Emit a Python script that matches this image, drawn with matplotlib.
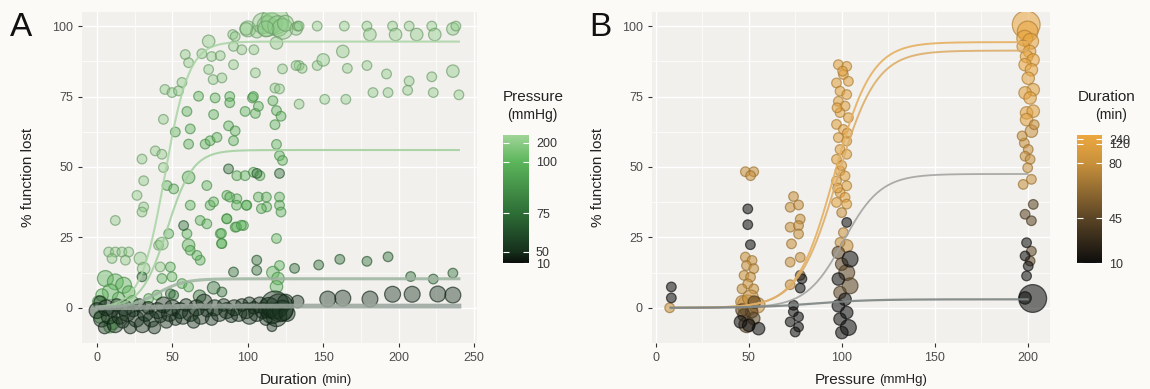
import numpy as np
import matplotlib.pyplot as plt
from matplotlib.colors import LinearSegmentedColormap, to_rgba

plt.rcParams['font.family'] = ['Liberation Sans', 'DejaVu Sans']

# ---------------- panel A : duration vs % function lost, by pressure (mmHg)
# (duration_min, pct_lost, n)
a_p200 = [
    (100, 99, 3), (106, 98, 2), (110, 101, 4), (113, 100, 4), (116, 101, 4), (118, 102, 5),
    (120, 100, 4), (123, 99, 4), (125, 101, 3), (119, 94, 2), (112, 99, 3), (99, 99, 2),
    (90, 97, 1), (91.6, 96.3, 1), (132, 99, 2), (133, 100, 1), (134, 100, 1), (146, 100, 1),
    (164, 100, 1), (179, 100, 1), (181, 97, 2), (196, 100, 1), (198, 97, 2), (207, 100, 1),
    (212, 97, 2), (222, 100, 1), (224, 97, 2), (236, 99, 2), (238, 100, 1),
    (74, 94.6, 2), (90.5, 92.8, 1), (96, 91.6, 1), (104, 91.6, 1), (58.5, 89.9, 1),
    (69.5, 90.2, 1), (76, 89.2, 1), (81.7, 89.5, 1), (60.7, 87, 1), (90.5, 86.3, 1),
    (105, 83.4, 1), (74, 84.6, 1), (77, 81, 1), (82.8, 81.6, 1), (56.3, 80, 1), (45, 77.5, 1),
    (49.7, 76.4, 1), (54, 77, 1), (163, 91, 2), (134, 86, 1), (136, 85, 1), (146, 86, 1),
    (150, 88, 2), (166, 85, 1), (179, 86, 1), (192, 83, 1), (207, 80.5, 1), (222, 82, 1),
    (236, 84, 2), (123, 84.8, 1), (132, 86, 1), (118, 78, 1), (121, 77.7, 1),
    (134, 72.3, 1), (151, 74, 1), (165, 74, 1), (183, 76.4, 1), (193, 76.4, 1), (206, 77.2, 1),
    (223, 76.4, 1), (240, 75.6, 1),
    (44, 66.9, 1), (29.8, 52.8, 1), (38.6, 55.7, 1), (43, 54.5, 1), (44, 49.8, 1),
    (30.9, 45.1, 1), (26.5, 39.9, 1), (30.9, 35.8, 1), (29.8, 34, 1), (12.1, 31, 1),
    (7.7, 19.8, 1), (12.1, 19.8, 1), (16.5, 19.8, 1), (21, 19.8, 1), (9.9, 17.5, 1),
    (18.8, 16.9, 1), (28.7, 17.5, 2), (30.9, 13.9, 2), (40.8, 22.2, 1), (43, 22.8, 2),
    (41.9, 14.5, 1),
]
a_p100 = [
    (103, 74.5, 1), (103.7, 75, 1), (98.2, 69.7, 1), (105, 69, 1), (107, 71.5, 1),
    (59.6, 69.7, 1), (77.3, 68.6, 1), (87.2, 64.6, 1), (91.6, 62.8, 1), (51.9, 62.4, 1),
    (61.8, 63.5, 1), (71.7, 58.1, 1), (75, 59.3, 1), (79.5, 60.5, 1), (90.5, 59.3, 1),
    (60.7, 58.1, 1), (116.6, 73.5, 1), (119, 70, 1), (122, 68, 1), (118, 65, 1), (119, 58, 1),
    (121, 54, 1), (123, 52.3, 1), (88, 75, 1), (88, 72.8, 1), (67.3, 75.1, 1), (78.3, 74.5, 1),
    (46.4, 43.4, 1), (50.8, 42.2, 1), (60.7, 46.3, 2), (72.8, 43.4, 1), (92.7, 46.9, 1),
    (98.2, 46.9, 1), (103.7, 48.1, 1), (108, 46.9, 1), (61.8, 36.4, 1), (75, 36.4, 1),
    (77.3, 37.6, 1), (86.1, 39.9, 1), (92.7, 38.7, 1), (99.3, 36.4, 1), (107, 39.3, 1),
    (112.5, 35.8, 1), (109, 35.2, 1), (68.4, 31, 1), (72.8, 29.8, 1), (86.1, 31.6, 1),
    (91.6, 28.6, 1), (97.1, 29.2, 1), (59.6, 26.3, 1), (81.7, 26.3, 1), (82.8, 22.8, 1),
    (47.5, 26.3, 1), (60.7, 22.2, 2), (61.8, 20.4, 1), (68.4, 16.9, 1), (66.2, 18.6, 1),
    (48.6, 14.5, 1), (49.7, 11, 1), (43, 10.4, 1), (56.3, 8.6, 1), (60.7, 7.4, 1),
    (112.3, 39.3, 1), (121, 39.3, 1), (121, 36.4, 1), (122, 34, 1), (119, 24.6, 1),
    (92.5, 36.4, 1), (99, 36.4, 1), (88, 39.3, 1), (86, 31.6, 1), (92.5, 28.7, 1),
    (95.7, 29.3, 1), (82.5, 26.4, 1), (82.5, 22.8, 1), (116.6, 12.5, 2), (120, 10.4, 2),
    (119, 7.5, 2), (121, 15, 1),
    (5.5, 10.4, 3), (12.1, 9.2, 3), (17.6, 8, 3), (8.8, 5.6, 3), (3.3, 4.5, 2), (1.1, 2.1, 2),
    (14.3, 3.3, 2), (21, 5.6, 2), (23.2, 2.1, 2), (34.2, 3.3, 1), (39.7, 4.5, 1),
    (8.6, -6.7, 2), (2, -3.3, 2), (10.6, -5.5, 2),
]
a_p75 = [
    (87.2, 49.3, 1), (121, 47.7, 1), (106, 47.7, 1), (57.4, 29.2, 1), (105.9, 16.9, 1),
    (105.9, 13.3, 1), (90.5, 12.7, 1), (29.8, 11, 1), (48.6, 5, 1), (50.8, 4.5, 1),
    (77.3, 7.1, 2), (82.8, 5.6, 1), (68, 4.1, 2), (131, 14, 1), (147, 15.2, 1), (161, 17.2, 1),
    (179, 16.5, 1), (193, 18.1, 1), (208, 11.1, 1), (223, 10.2, 1), (236, 12.3, 1),
]
a_p50 = [
    (133, 2.2, 2), (153, 3.1, 3), (163, 3.4, 3), (181, 3.1, 3), (196, 4.8, 3), (209, 4.8, 3),
    (226, 4.9, 3), (236, 4.5, 3),
    (0, -1, 3), (2, 2, 2), (3, -4, 3), (5, -7, 2), (6, 0, 3), (8, -3, 3), (10, -1, 2),
    (12, -6, 3), (13, 1, 2), (15, -3, 3), (17, -5, 2), (18, 0, 3), (20, -2, 3), (22, -7, 2),
    (24, -1, 2), (26, -4, 3), (28, 1, 2), (30, -6, 3), (32, -2, 3), (34, 0, 2), (36, -4, 3),
    (38, -7, 2), (40, -1, 3), (42, -3, 2), (44, 1, 3), (46, -5, 2), (48, -2, 3), (50, 0, 3),
    (52, -4, 2), (55, -1, 3), (57, -3, 3), (59, 1, 2), (62, -2, 3), (64, -5, 2), (66, 0, 3),
    (69, -3, 3), (71, 2, 3), (73, -1, 2), (76, -4, 2), (78, 0, 3), (81, -2, 3), (84, 1, 2),
    (86, -1, 3), (89, -3, 2), (91, 0, 3), (94, -2, 3), (96, 1, 2), (99, -1, 3), (101, -3, 3),
    (104, 0, 2), (106, -2, 3), (108, 1, 3), (110, -1, 3), (112, -4, 2), (114, 0, 4),
    (116, -2, 4), (118, 1, 5), (119, -3, 4), (121, 0, 5), (123, -1, 4), (125, 2, 3),
    (126, -2, 3), (116, -6.7, 1), (101, 1.6, 2),
]
a_groups = [(200, a_p200), (100, a_p100), (75, a_p75), (50, a_p50)]

# fitted curves in A (one per pressure)
a_fit_pressure = [200, 100, 75, 50]
a_fit_top = [94.5, 56, 10.3, 0.6]
a_fit_mid = [45, 46.5, 40, 40]
a_fit_scale = [8, 8.5, 9, 10]

# ---------------- panel B : pressure vs % function lost, by duration (min)
# (pressure_mmHg, pct_lost, n)
b_d240 = [
    (199.2, 100.5, 5), (200, 98.1, 4), (198.4, 95.7, 3), (201.6, 94.6, 3), (197.6, 92.8, 2),
    (201, 91, 2), (199.4, 89.2, 2), (202.9, 88, 2), (198.6, 86.3, 2), (202, 84.5, 2),
]
b_d120 = [
    (98.2, 86.3, 1), (102.7, 85.7, 1), (100.9, 82.8, 1), (97.2, 79.8, 1), (103.6, 80.4, 1),
    (99.1, 76.9, 1), (102.7, 75.7, 1), (98.2, 73.3, 1), (101.8, 71.6, 1), (99.1, 69.3, 1),
    (103.6, 67.5, 1), (97.2, 65.1, 1), (100.9, 63.3, 1), (98.2, 60.4, 1), (102.7, 59.2, 1),
    (99.1, 56.2, 1), (102.7, 54.5, 1), (97.2, 52.7, 1), (99.1, 48.6, 1), (101.8, 46.8, 1),
    (97.2, 45, 1), (102.7, 43.3, 1), (99.1, 40.9, 1), (101.8, 39.2, 1), (97.2, 37.4, 1),
    (102.7, 36.8, 1), (100.5, 84, 1), (97.5, 71, 1), (103, 62, 1), (100, 50.5, 1),
    (97.8, 42.5, 1),
    (200.3, 81.5, 2), (203, 77.4, 2), (198.6, 76.3, 2), (201.3, 74.5, 2),
    (199.4, 69.2, 2), (203, 69.8, 2), (199.4, 66.8, 2),
]
b_d80 = [
    (202, 62.7, 2), (198.2, 58.5, 1), (200.3, 56.2, 1), (198.6, 53.8, 1), (201.3, 52.7, 1),
    (200, 49.7, 1), (202, 45.6, 1), (197.6, 43.8, 1), (203.5, 65, 1), (197, 61, 1),
    (100, 33.8, 1), (100.9, 26.7, 1),
    (48.2, 48.3, 1), (52.7, 48.3, 1), (51, 46.9, 1), (74.1, 39.5, 1), (72.3, 35.7, 1),
    (76.8, 36.5, 1), (77.7, 31.5, 1), (72.3, 28.6, 1), (76.8, 29.2, 1), (76.8, 26.2, 1),
    (73, 22.7, 1), (77.7, 17.9, 1), (72.3, 16.2, 1), (48.2, 18, 1), (51.8, 16.8, 1),
    (48.8, 15, 1), (52.7, 13.9, 1), (47.5, 11.5, 1), (51, 10.9, 1), (49.5, 8.5, 1),
    (46.4, 6.7, 1), (52.7, 6.7, 1), (49.5, 0.9, 4), (46.4, 2.1, 2), (54.5, 0.9, 3),
    (51, 3.5, 3), (72.3, 8.2, 1), (102.7, 22, 2), (99.1, 23.2, 1), (7.5, 0, 1),
]
b_d45 = [
    (203, 36.7, 1), (198.6, 33.2, 1), (202, 30.9, 1), (202, 20.1, 1), (201.3, 16.6, 1),
    (98.2, 19.6, 2), (102.7, 12.5, 3), (104.5, 7.8, 3), (99.1, 5.4, 2), (47.5, -2.6, 2),
    (52.7, -3.8, 2), (51.6, -1.4, 2), (46.4, -0.8, 2), (49, -6, 3), (53, 2, 2),
    (77.7, 11.5, 1), (100, 15.5, 2),
]
b_d10 = [
    (8.4, 7.4, 1), (8.4, 3.5, 1), (49.5, 35.1, 1), (49.5, 29.5, 1), (50.9, 22.4, 1),
    (78.6, 10.3, 1), (77.7, 7, 1), (74.1, 0.9, 1), (74, -1.4, 1), (76.8, -3.2, 1),
    (72.3, -5, 1), (76.8, -6.8, 1), (75, -8.6, 1), (50, -6.2, 2), (55.3, -7.4, 2),
    (45.6, -5, 2), (102.7, 30.3, 1), (104.5, 17.3, 3), (98.2, 10.2, 2), (101.8, 3, 2),
    (98.2, 0.7, 2), (102.7, -1.7, 2), (99.1, -4, 2), (103.6, -7, 3), (100.1, -8.8, 2),
    (199.4, 23.1, 1), (198.6, 18.4, 1), (200.3, 14.8, 1), (199.4, 11.3, 1),
    (202.7, 3.3, 5), (198.6, 3.5, 2),
]
b_groups = [(240, b_d240), (120, b_d120), (80, b_d80), (45, b_d45), (10, b_d10)]

b_fit_duration = [240, 120, 45, 10]
b_fit_top = [94.3, 91.3, 47.5, 3.0]
b_fit_mid = [96, 97.5, 101, 85]
b_fit_scale = [10, 10.5, 10, 15]

a_cbar_ticks = [200, 100, 75, 50, 10]
b_cbar_ticks = [240, 120, 80, 45, 10]

# colour scales (position of each tick along the bar)
A_POS = [0.94, 0.79, 0.39, 0.086, 0.0]
B_POS = [0.965, 0.93, 0.78, 0.35, 0.0]
cmap_a = LinearSegmentedColormap.from_list('press', [(0, '#0a0f0b'), (0.086, '#16301c'),
                                                     (0.39, '#2e6e37'), (0.79, '#5cb65b'),
                                                     (1, '#a0d598')])
cmap_b = LinearSegmentedColormap.from_list('dur', [(0, '#0e0e0e'), (0.35, '#5b4526'),
                                                   (0.78, '#c8913c'), (1, '#eda83f')])
SIZE = {1: 48, 2: 80, 3: 130, 4: 220, 5: 400}
BG = '#fbfaf7'
PANEL = '#f1f0ed'


def value_color(v, ticks, pos, cmap):
    return cmap(np.interp(v, ticks[::-1], pos[::-1]))


def draw_points(ax, groups, ticks, pos, cmap, alpha):
    for val, pts in groups:
        arr = np.array(pts, dtype=float)
        rgb = value_color(val, ticks, pos, cmap)
        face = to_rgba(rgb, alpha)
        edge = to_rgba(tuple(c * 0.75 for c in rgb[:3]), 0.65)
        ax.scatter(arr[:, 0], arr[:, 1], s=[SIZE[int(n)] for n in arr[:, 2]],
                   facecolor=face, edgecolor=edge, linewidths=0.9, zorder=3)


def style_axes(ax, xticks, xlim):
    ax.set_facecolor(PANEL)
    for sp in ax.spines.values():
        sp.set_visible(False)
    ax.set_xlim(*xlim)
    ax.set_ylim(-12.5, 105)
    ax.set_xticks(xticks)
    ax.set_xticks([(a + b) / 2 for a, b in zip(xticks[:-1], xticks[1:])], minor=True)
    ax.set_yticks([0, 25, 50, 75, 100])
    ax.set_yticks([12.5, 37.5, 62.5, 87.5], minor=True)
    ax.grid(which='major', color='white', linewidth=1.0)
    ax.grid(which='minor', color='white', linewidth=0.5)
    ax.set_axisbelow(True)
    ax.tick_params(which='major', length=3, width=0.8, color='#333333',
                   labelsize=9, labelcolor='#4d4d4d')
    ax.tick_params(which='minor', length=0)
    ax.set_ylabel('% function lost', fontsize=11, color='#222222')
    ax.yaxis.set_label_coords(-0.118, 0.5)


def colorbar(fig, rect, cmap, ticks, pos):
    cax = fig.add_axes(rect)
    cax.imshow(np.linspace(0, 1, 256)[:, None], aspect='auto', cmap=cmap,
               origin='lower', extent=[0, 1, 0, 1])
    cax.set_xticks([])
    cax.set_ylim(0, 1)
    cax.set_yticks(pos)
    cax.set_yticklabels([str(t) for t in ticks])
    cax.yaxis.tick_right()
    cax.tick_params(axis='y', left=True, right=True, direction='in', color='white',
                    length=4, width=0.8, labelsize=9, labelcolor='#333333', pad=5)
    for sp in cax.spines.values():
        sp.set_visible(False)
    return cax


fig = plt.figure(figsize=(11.5, 3.89), dpi=100, facecolor=BG)

# ---------------- A
ax1 = fig.add_axes([82 / 1150, 46 / 389, 395 / 1150, 331 / 389])
style_axes(ax1, [0, 50, 100, 150, 200, 250], (-10, 252))
draw_points(ax1, a_groups, a_cbar_ticks, A_POS, cmap_a, 0.42)
t = np.linspace(0, 240, 300)
a_line_styles = [('#aad4a4', 1.5), ('#a2cf9d', 1.5), ('#9db4a0', 2.2), ('#9aa59c', 3.5)]
for p, top, mid, sc, (col, lw) in zip(a_fit_pressure, a_fit_top, a_fit_mid, a_fit_scale,
                                       a_line_styles):
    ax1.plot(t, top / (1 + np.exp(-(t - mid) / sc)), color=col, lw=lw, alpha=0.85, zorder=4)
ax1.text(0.597, -0.112, 'Duration', transform=ax1.transAxes, ha='right', va='center',
         fontsize=11, color='#222222')
ax1.text(0.605, -0.112, '(min)', transform=ax1.transAxes, ha='left', va='center',
         fontsize=9.5, color='#222222')

# ---------------- B
ax2 = fig.add_axes([652 / 1150, 46 / 389, 398 / 1150, 331 / 389])
style_axes(ax2, [0, 50, 100, 150, 200], (-2, 212))
draw_points(ax2, b_groups, b_cbar_ticks, B_POS, cmap_b, 0.55)
pr = np.linspace(8, 200, 300)
b_line_styles = [('#e6b060', 1.4), ('#dcae6a', 1.4), ('#a3a3a0', 1.3), ('#7c8482', 1.6)]
for d, top, mid, sc, (col, lw) in zip(b_fit_duration, b_fit_top, b_fit_mid, b_fit_scale,
                                       b_line_styles):
    ax2.plot(pr, top / (1 + np.exp(-(pr - mid) / sc)), color=col, lw=lw, alpha=0.9, zorder=4)
ax2.text(0.563, -0.112, 'Pressure', transform=ax2.transAxes, ha='right', va='center',
         fontsize=11, color='#222222')
ax2.text(0.570, -0.112, '(mmHg)', transform=ax2.transAxes, ha='left', va='center',
         fontsize=9.5, color='#222222')

# ---------------- colour bars
colorbar(fig, [503 / 1150, 126 / 389, 26 / 1150, 128 / 389], cmap_a, a_cbar_ticks, A_POS)
colorbar(fig, [1077 / 1150, 126 / 389, 25 / 1150, 128 / 389], cmap_b, b_cbar_ticks, B_POS)
fig.text(503 / 1150, 1 - 97 / 389, 'Pressure', ha='left', va='center', fontsize=11,
         color='#222222')
fig.text(532 / 1150, 1 - 115 / 389, '(mmHg)', ha='center', va='center', fontsize=10,
         color='#222222')
fig.text(1078 / 1150, 1 - 97 / 389, 'Duration', ha='left', va='center', fontsize=11,
         color='#222222')
fig.text(1111 / 1150, 1 - 115 / 389, '(min)', ha='center', va='center', fontsize=10,
         color='#222222')

# panel letters
fig.text(10 / 1150, 1 - 27 / 389, 'A', ha='left', va='center', fontsize=24, color='#111111')
fig.text(589 / 1150, 1 - 27 / 389, 'B', ha='left', va='center', fontsize=24, color='#111111')

fig.savefig('out.png', dpi=100, facecolor=BG)
